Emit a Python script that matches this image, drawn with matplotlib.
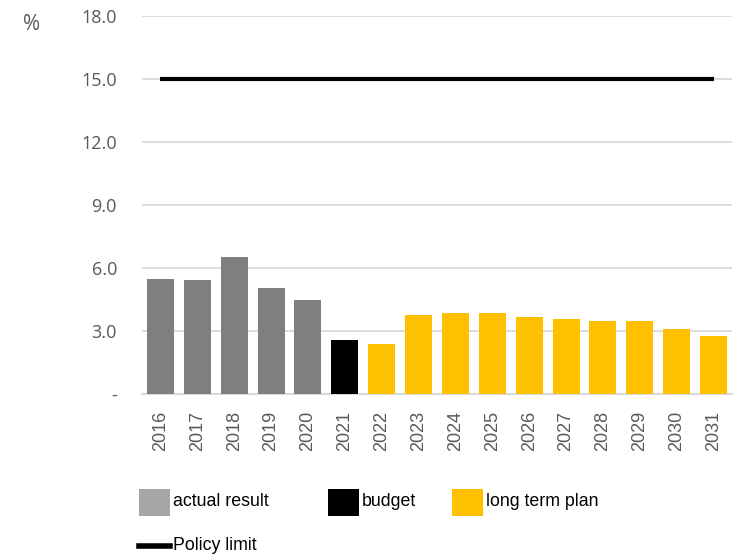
import matplotlib.pyplot as plt
from matplotlib.patches import Rectangle
from matplotlib.lines import Line2D

years = [str(y) for y in range(2016, 2032)]
ratio = [5.50, 5.41, 6.51, 5.07, 4.50, 2.58, 2.37, 3.78, 3.87, 3.87, 3.68, 3.58, 3.49, 3.49, 3.09, 2.77]
kind = ['actual'] * 5 + ['budget'] + ['plan'] * 10
policy_limit = 15.0
y_ticks = [0, 3, 6, 9, 12, 15, 18]
y_labels = ['-', '3.0', '6.0', '9.0', '12.0', '15.0', '18.0']

colors = {'actual': '#7F7F7F', 'budget': '#000000', 'plan': '#FFC000'}
W, H = 733, 556


def px(x, y):
    # pixel position (from top-left) -> figure fraction
    return x / W, 1 - y / H


fig = plt.figure(figsize=(W / 100, H / 100), dpi=100)
ax = fig.add_axes([142 / W, 1 - 394 / H, (732 - 142) / W, (394 - 16) / H])

x = list(range(len(years)))
ax.bar(x, ratio, width=0.73, color=[colors[k] for k in kind], zorder=3)
ax.plot([x[0], x[-1]], [policy_limit] * 2, color='black', lw=3, zorder=4, solid_capstyle='butt')

ax.set_xlim(-0.5, len(years) - 0.5)
ax.set_ylim(0, 18)
ax.set_yticks(y_ticks)
ax.set_yticklabels(y_labels, fontfamily='Open Sans', fontsize=13, color='#595959')
ax.set_xticks(x)
ax.set_xticklabels(years, rotation=90, fontfamily='Liberation Sans', fontsize=13, color='#595959')
ax.tick_params(axis='y', length=0, pad=18)
ax.tick_params(axis='x', length=0, pad=12)
ax.grid(axis='y', color='#D9D9D9', lw=1.3, zorder=0)
for side in ['top', 'right', 'left']:
    ax.spines[side].set_visible(False)
ax.spines['bottom'].set_color('#D9D9D9')
ax.spines['bottom'].set_linewidth(1.5)

fig.text(*px(32, 25), '%', fontfamily='Open Sans', fontsize=15, color='#595959', ha='center', va='center')

# legend drawn by hand, Excel-style spacing
legend_items = [(139, 'actual result', '#A6A6A6'), (328, 'budget', '#000000'), (452, 'long term plan', '#FFC000')]
for lx, label, c in legend_items:
    fx, fy = px(lx, 516)
    fig.add_artist(Rectangle((fx, fy), 31 / W, 27 / H, transform=fig.transFigure, color=c, lw=0))
    fig.text(*px(lx + 34, 502), label, fontfamily='Liberation Sans', fontsize=12.8, color='black', va='center')

fig.add_artist(Line2D([139 / W, 170 / W], [1 - 546 / H] * 2, transform=fig.transFigure, color='black', lw=4))
fig.text(*px(173, 546), 'Policy limit', fontfamily='Liberation Sans', fontsize=12.8, color='black', va='center')

fig.savefig('out.png', dpi=100)
